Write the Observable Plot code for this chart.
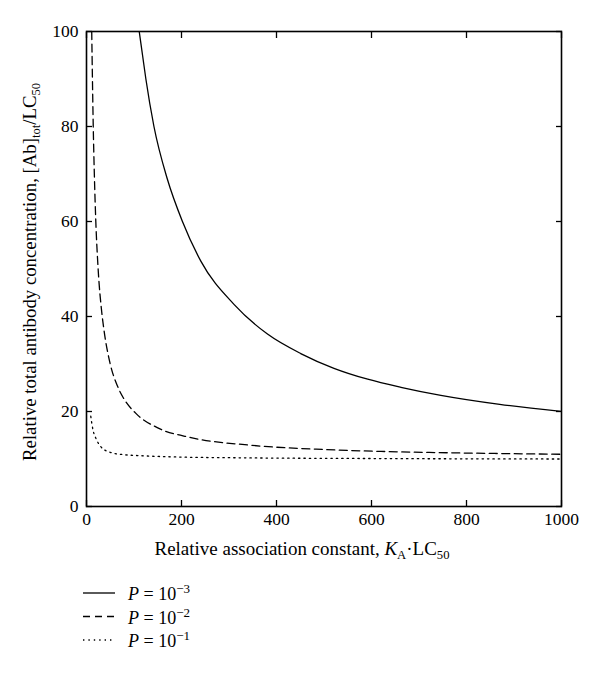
<!DOCTYPE html>
<html><head><meta charset="utf-8">
<script src="https://cdn.jsdelivr.net/npm/d3@7"></script>
<script src="https://cdn.jsdelivr.net/npm/@observablehq/plot@0.6"></script>
<style>
body{margin:0;background:#fff;font-family:"Liberation Serif","DejaVu Serif",serif}
#chart svg, #legend svg{display:block}
</style>
</head><body><div id="chart"></div><div id="legend"></div>
<script>
// Tick values
const xTicks = [0, 200, 400, 600, 800, 1000];
const yTicks = [0, 20, 40, 60, 80, 100];

// Series: P = 10^-3 (solid)
const p3X = [111, 118, 125, 142, 170, 202, 241, 311, 381, 451, 521, 592, 662, 746, 870, 1000];
const p3Y = [100, 95, 90, 80, 69, 60, 51.6, 42.5, 36.3, 32.2, 29.1, 26.8, 25.1, 23.4, 21.5, 20.0];
// Series: P = 10^-2 (dashed)
const p2X = [11, 12.5, 14.2, 16.5, 19.6, 24.5, 32, 37, 50, 65, 78, 104, 149, 220, 346, 500, 620, 800, 1000];
const p2Y = [100, 90, 80, 70, 60, 50, 41, 37, 30, 25.4, 22.8, 19.6, 16.6, 14.5, 12.9, 12.0, 11.6, 11.25, 11.0];
// Series: P = 10^-1 (dotted)
const p1X = [9, 11, 14, 20, 30, 50, 80, 114, 200, 325, 600, 1000];
const p1Y = [19, 17.6, 16, 14.3, 12.6, 11.4, 10.9, 10.7, 10.4, 10.25, 10.1, 10.0];

const legendExp = ["−3", "−2", "−1"];
const dashes = [null, "8,4.5", "1.4,4"];

const zip = (xs, ys) => xs.map((x, i) => ({x, y: ys[i]}));
const series = [zip(p3X, p3Y), zip(p2X, p2Y), zip(p1X, p1Y)];

const H = 568;
const FONT = '"Liberation Serif", "DejaVu Serif", serif';
const FS = 17.5;
const LFS = 18;

const lineMarks = series.map((d, i) => Plot.line(d, {
  x: "x", y: "y", stroke: "#000", strokeWidth: 1.3,
  strokeDasharray: dashes[i] ?? undefined, curve: "monotone-x", clip: true
}));

const plot = Plot.plot({
  width: 600, height: H,
  marginLeft: 86, marginRight: 39, marginTop: 31, marginBottom: H - 506,
  style: {fontFamily: FONT, fontSize: FS + "px", color: "#000", background: "#fff"},
  x: {domain: [0, 1000]},
  y: {domain: [0, 100]},
  marks: [
    ...lineMarks,
    Plot.frame({stroke: "#000", strokeWidth: 1.6}),
    Plot.axisX(xTicks, {anchor: "bottom", tickSize: -6, text: null, label: null, strokeWidth: 1.3}),
    Plot.axisX(xTicks, {anchor: "top", tickSize: -6, text: null, label: null, strokeWidth: 1.3}),
    Plot.axisY(yTicks, {anchor: "left", tickSize: -6, text: null, label: null, strokeWidth: 1.3}),
    Plot.axisY(yTicks, {anchor: "right", tickSize: -6, text: null, label: null, strokeWidth: 1.3}),
    Plot.axisX(xTicks, {anchor: "bottom", tickSize: 0, tickPadding: 6, label: null, fontSize: FS, tickFormat: d => String(d)}),
    Plot.axisY(yTicks, {anchor: "left", tickSize: 0, tickPadding: 8, label: null, fontSize: FS, tickFormat: d => String(d)})
  ]
});
document.getElementById("chart").append(plot);

const svg = d3.select(plot);
// X axis label
const xl = svg.append("text").attr("x", 302).attr("y", 555).attr("text-anchor", "middle")
  .attr("font-family", FONT).attr("font-size", LFS).attr("fill", "#000")
  .attr("textLength", 295).attr("lengthAdjust", "spacingAndGlyphs");
xl.append("tspan").text("Relative association constant, ");
xl.append("tspan").attr("font-style", "italic").text("K");
xl.append("tspan").attr("font-size", 12).attr("dy", 4).text("A");
xl.append("tspan").attr("dy", -4).text("·LC");
xl.append("tspan").attr("font-size", 12).attr("dy", 4).text("50");

// Y axis label
const yl = svg.append("text").attr("transform", "translate(36,272) rotate(-90)").attr("text-anchor", "middle")
  .attr("font-family", FONT).attr("font-size", LFS).attr("fill", "#000")
  .attr("textLength", 378).attr("lengthAdjust", "spacingAndGlyphs");
yl.append("tspan").text("Relative total antibody concentration, [Ab]");
yl.append("tspan").attr("font-size", 12).attr("dy", 4).text("tot");
yl.append("tspan").attr("dy", -4).text("/LC");
yl.append("tspan").attr("font-size", 12).attr("dy", 4).text("50");

// Legend
const lg = d3.select("#legend").append("svg").attr("width", 600).attr("height", 685 - H);
legendExp.forEach((e, i) => {
  const cy = 25 + i * 23.5;
  lg.append("line").attr("x1", 83).attr("x2", 115).attr("y1", cy).attr("y2", cy)
    .attr("stroke", "#000").attr("stroke-width", 1.3)
    .attr("stroke-dasharray", i === 1 ? "7,5" : i === 2 ? "1.4,4" : null);
  const t = lg.append("text").attr("x", 128).attr("y", cy + 7)
    .attr("font-family", FONT).attr("font-size", 18).attr("fill", "#000");
  t.append("tspan").attr("font-style", "italic").text("P");
  t.append("tspan").text(" = 10");
  t.append("tspan").attr("font-size", 13).attr("dy", -7).text(e);
});
</script>
</body></html>
